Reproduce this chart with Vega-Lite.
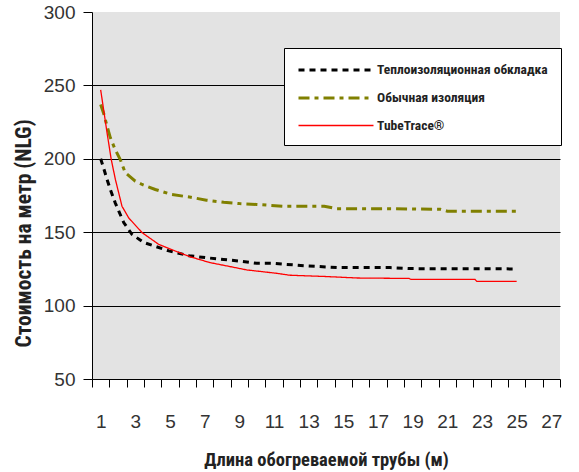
{
  "$schema": "https://vega.github.io/schema/vega-lite/v6.json",
  "autosize": "none",
  "padding": {"left": 92, "top": 12, "right": 19, "bottom": 93},
  "width": 468,
  "height": 367,
  "background": "white",
  "config": {
    "view": {"fill": "#e3e3e3", "stroke": null},
    "axis": {"domainColor": "black", "tickColor": "black", "labelFont": "Liberation Sans", "labelFontSize": 19, "labelColor": "#333", "titleFont": "Roboto Condensed, Roboto, sans-serif", "titleFontWeight": "bold", "titleColor": "#222"},
    "legend": {
      "orient": "none", "legendX": 192, "legendY": 36, "title": null,
      "fillColor": "white", "strokeColor": "black", "padding": 13,
      "symbolType": "M-5,0H5", "symbolSize": 225, "symbolOffset": 30, "labelOffset": 32,
      "rowPadding": 12, "labelFont": "Roboto Condensed, Roboto, sans-serif",
      "labelFontSize": 13.5, "labelFontWeight": "bold", "labelColor": "#222", "labelLimit": 400
    }
  },
  "data": {"values": [
    {"series": "Теплоизоляционная обкладка", "x": 1.0, "y": 200},
    {"series": "Теплоизоляционная обкладка", "x": 1.17, "y": 193.7},
    {"series": "Теплоизоляционная обкладка", "x": 1.37, "y": 185.8},
    {"series": "Теплоизоляционная обкладка", "x": 1.56, "y": 179},
    {"series": "Теплоизоляционная обкладка", "x": 1.84, "y": 170},
    {"series": "Теплоизоляционная обкладка", "x": 2.04, "y": 164.5},
    {"series": "Теплоизоляционная обкладка", "x": 2.33, "y": 156.6},
    {"series": "Теплоизоляционная обкладка", "x": 2.8, "y": 148.6},
    {"series": "Теплоизоляционная обкладка", "x": 3.48, "y": 143},
    {"series": "Теплоизоляционная обкладка", "x": 4.06, "y": 140.7},
    {"series": "Теплоизоляционная обкладка", "x": 4.93, "y": 137.3},
    {"series": "Теплоизоляционная обкладка", "x": 6.1, "y": 134},
    {"series": "Теплоизоляционная обкладка", "x": 7.1, "y": 132.6},
    {"series": "Теплоизоляционная обкладка", "x": 8.1, "y": 131.4},
    {"series": "Теплоизоляционная обкладка", "x": 9.0, "y": 130.3},
    {"series": "Теплоизоляционная обкладка", "x": 10.0, "y": 128.8},
    {"series": "Теплоизоляционная обкладка", "x": 11.0, "y": 128.8},
    {"series": "Теплоизоляционная обкладка", "x": 11.7, "y": 128.1},
    {"series": "Теплоизоляционная обкладка", "x": 12.9, "y": 127},
    {"series": "Теплоизоляционная обкладка", "x": 14.8, "y": 125.9},
    {"series": "Теплоизоляционная обкладка", "x": 17.7, "y": 125.9},
    {"series": "Теплоизоляционная обкладка", "x": 18.85, "y": 125.2},
    {"series": "Теплоизоляционная обкладка", "x": 25.0, "y": 125},
    {"series": "Обычная изоляция", "x": 1.0, "y": 237},
    {"series": "Обычная изоляция", "x": 1.17, "y": 231},
    {"series": "Обычная изоляция", "x": 1.37, "y": 222.2},
    {"series": "Обычная изоляция", "x": 1.56, "y": 214.3},
    {"series": "Обычная изоляция", "x": 1.84, "y": 206.3},
    {"series": "Обычная изоляция", "x": 2.13, "y": 199.5},
    {"series": "Обычная изоляция", "x": 2.42, "y": 190.5},
    {"series": "Обычная изоляция", "x": 3.0, "y": 184.8},
    {"series": "Обычная изоляция", "x": 3.39, "y": 182.5},
    {"series": "Обычная изоляция", "x": 4.15, "y": 179.1},
    {"series": "Обычная изоляция", "x": 5.1, "y": 175.7},
    {"series": "Обычная изоляция", "x": 6.2, "y": 173.8},
    {"series": "Обычная изоляция", "x": 7.1, "y": 171.8},
    {"series": "Обычная изоляция", "x": 8.1, "y": 170.4},
    {"series": "Обычная изоляция", "x": 9.0, "y": 169.5},
    {"series": "Обычная изоляция", "x": 10.0, "y": 168.9},
    {"series": "Обычная изоляция", "x": 11.5, "y": 167.7},
    {"series": "Обычная изоляция", "x": 13.9, "y": 167.7},
    {"series": "Обычная изоляция", "x": 14.6, "y": 166},
    {"series": "Обычная изоляция", "x": 17.7, "y": 166},
    {"series": "Обычная изоляция", "x": 20.6, "y": 165.6},
    {"series": "Обычная изоляция", "x": 21.0, "y": 164.3},
    {"series": "Обычная изоляция", "x": 25.0, "y": 164.3},
    {"series": "TubeTrace®", "x": 1.0, "y": 247},
    {"series": "TubeTrace®", "x": 1.37, "y": 217.6},
    {"series": "TubeTrace®", "x": 1.61, "y": 199.5},
    {"series": "TubeTrace®", "x": 1.85, "y": 185.9},
    {"series": "TubeTrace®", "x": 2.23, "y": 167.7},
    {"series": "TubeTrace®", "x": 2.62, "y": 159.7},
    {"series": "TubeTrace®", "x": 3.39, "y": 149.7},
    {"series": "TubeTrace®", "x": 4.35, "y": 141.7},
    {"series": "TubeTrace®", "x": 5.3, "y": 137.2},
    {"series": "TubeTrace®", "x": 6.15, "y": 133.3},
    {"series": "TubeTrace®", "x": 7.3, "y": 129.3},
    {"series": "TubeTrace®", "x": 8.46, "y": 126.6},
    {"series": "TubeTrace®", "x": 9.43, "y": 124.3},
    {"series": "TubeTrace®", "x": 11.16, "y": 122},
    {"series": "TubeTrace®", "x": 11.9, "y": 120.7},
    {"series": "TubeTrace®", "x": 14.0, "y": 119.8},
    {"series": "TubeTrace®", "x": 15.8, "y": 118.8},
    {"series": "TubeTrace®", "x": 18.8, "y": 118.5},
    {"series": "TubeTrace®", "x": 18.9, "y": 117.8},
    {"series": "TubeTrace®", "x": 22.6, "y": 117.8},
    {"series": "TubeTrace®", "x": 22.7, "y": 116.5},
    {"series": "TubeTrace®", "x": 25.0, "y": 116.5}
  ]},
  "mark": {"type": "line", "interpolate": "linear"},
  "encoding": {
    "x": {
      "field": "x", "type": "quantitative",
      "scale": {"domain": [0.5, 27.5], "nice": false, "zero": false},
      "axis": {
        "title": "Длина обогреваемой трубы (м)",
        "values": [0.5,1.5,2.5,3.5,4.5,5.5,6.5,7.5,8.5,9.5,10.5,11.5,12.5,13.5,14.5,15.5,16.5,17.5,18.5,19.5,20.5,21.5,22.5,23.5,24.5,25.5,26.5,27.5],
        "labelExpr": "((datum.value + 0.5) % 2 === 1 && datum.value < 27) ? toString(datum.value + 0.5) : ''",
        "labelOffset": 8.67, "labelAlign": "center", "labelOverlap": false, "labelFlush": false,
        "tickSize": 8, "labelPadding": 25, "grid": false,
        "titleFontSize": 18.5, "titleY": 86, "titleBaseline": "alphabetic"
      }
    },
    "y": {
      "field": "y", "type": "quantitative",
      "scale": {"domain": [50, 300], "nice": false, "zero": false},
      "axis": {
        "title": "Стоимость на метр (NLG)",
        "values": [50, 100, 150, 200, 250, 300],
        "grid": true,
        "gridColor": {"condition": {"test": "datum.value === 300 || datum.value === 50", "value": "transparent"}, "value": "black"},
        "gridWidth": 1.2,
        "tickSize": 9, "labelPadding": 8,
        "titleFontSize": 21.5, "titleX": -62, "titleY": 221, "titleAngle": -90, "titleAlign": "center", "titleBaseline": "alphabetic"
      }
    },
    "color": {
      "field": "series", "type": "nominal",
      "scale": {"domain": ["Теплоизоляционная обкладка", "Обычная изоляция", "TubeTrace®"], "range": ["#000000", "#808000", "#ff0000"]}
    },
    "strokeDash": {
      "field": "series", "type": "nominal",
      "scale": {"domain": ["Теплоизоляционная обкладка", "Обычная изоляция", "TubeTrace®"], "range": [[6, 5], [11, 5, 4, 5], [1, 0]]}
    },
    "strokeWidth": {
      "field": "series", "type": "nominal",
      "scale": {"type": "ordinal", "domain": ["Теплоизоляционная обкладка", "Обычная изоляция", "TubeTrace®"], "range": [3, 3, 1.3]}
    }
  }
}
